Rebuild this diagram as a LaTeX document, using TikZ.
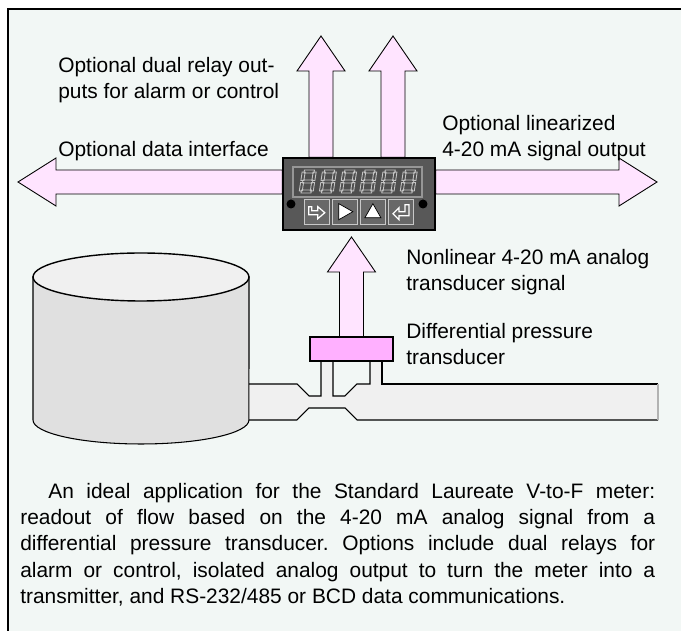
\documentclass[tikz,border=0pt]{standalone}
\usepackage{fontspec}
\setmainfont{Liberation Sans}
\frenchspacing
\usetikzlibrary{positioning,calc}
\definecolor{panelbg}{RGB}{242,247,245}
\definecolor{arrowpink}{RGB}{255,228,255}
\definecolor{xducerpink}{RGB}{255,176,255}
\definecolor{tankgray}{RGB}{224,224,224}
\definecolor{lidgray}{RGB}{240,240,240}
\definecolor{pipegray}{RGB}{240,240,240}
\definecolor{metergray}{RGB}{88,88,88}
\definecolor{displaygray}{RGB}{78,78,78}
\definecolor{rimgray}{RGB}{150,150,150}
\definecolor{keygray}{RGB}{104,104,104}
\definecolor{keyrim}{RGB}{200,200,200}
\definecolor{seggray}{RGB}{196,196,196}
\tikzset{
  panel/.style={draw=black,line width=1.6pt,fill=panelbg},
  fatarrow/.style={draw=black,line width=0.5pt,fill=arrowpink,line join=miter},
  meterbox/.style={rectangle,draw=black,line width=0.8pt,fill=metergray,minimum width=3.04cm,minimum height=1.44cm,inner sep=0pt},
  readout/.style={rectangle,draw=rimgray,line width=0.6pt,fill=displaygray,minimum width=2.58cm,minimum height=0.6cm,inner sep=0pt},
  keybox/.style={rectangle,draw=keyrim,line width=0.6pt,fill=keygray,minimum size=0.5cm,inner sep=0pt},
  seg/.style={draw=seggray,line width=0.5pt},
  keyicon/.style={draw=black,fill=white,line width=0.4pt,line join=miter},
  keyglyph/.style={draw=white,line width=0.7pt,line join=miter},
  ledhole/.style={circle,fill=black,minimum size=0.18cm,inner sep=0pt},
  xducer/.style={rectangle,draw=black,line width=0.6pt,fill=xducerpink,minimum width=1.66cm,minimum height=0.48cm,inner sep=0pt},
  note/.style={anchor=north west,inner sep=0pt,align=left,font=\fontsize{11.9}{14.74}\selectfont},
  caption/.style={anchor=north west,inner sep=0pt,text width=12.7cm,align=justify,font=\fontsize{11.9}{14.9}\selectfont},
  tankside/.style={draw=black,line width=0.6pt,fill=tankgray},
  tanklid/.style={draw=black,line width=0.8pt,fill=lidgray},
  pipe/.style={fill=pipegray},
  pipeline/.style={draw=black,line width=0.6pt}
}
% fat block arrows: #1 foot on a node border, #2 tip
\newcommand\fatvert[2]{%
  \filldraw[fatarrow] ($(#1)+(-12,0)$) -- ($(#2)+(-12,35)$) -- ($(#2)+(-24,35)$) -- (#2)
    -- ($(#2)+(24,35)$) -- ($(#2)+(12,35)$) -- ($(#1)+(12,0)$) -- cycle;}
% #3 = 1 points right, -1 points left
\newcommand\fathoriz[3]{%
  \filldraw[fatarrow] ($(#1)+(0,-12)$) -- ($(#2)+(#3*-38,-12)$) -- ($(#2)+(#3*-38,-24)$) -- (#2)
    -- ($(#2)+(#3*-38,24)$) -- ($(#2)+(#3*-38,12)$) -- ($(#1)+(0,12)$) -- cycle;}

\begin{document}
\begin{tikzpicture}[x=0.02cm,y=-0.02cm]
  \useasboundingbox (0,0) rectangle (681,631);
  \fill[white] (0,0) rectangle (681,631);
  \filldraw[panel] (8,9) rectangle (720,670);

  % tank and venturi pipe
  \fill[pipe] (249,384) -- (297,384) -- (309,396) -- (321,396) -- (321,361) -- (333,361) -- (333,396)
    -- (345,396) -- (357,384) -- (370,384) -- (370,361) -- (382,361) -- (382,384) -- (658,384)
    -- (658,420) -- (357,420) -- (345,408) -- (309,408) -- (297,420) -- (249,420) -- cycle;
  \draw[pipeline] (249,384) -- (297,384) -- (309,396) -- (321,396) -- (321,361);
  \draw[pipeline] (333,361) -- (333,396) -- (345,396) -- (357,384) -- (370,384) -- (370,361);
  \draw[pipeline] (382,361) -- (382,384) -- (658,384);
  \draw[pipeline] (249,420) -- (297,420) -- (309,408) -- (345,408) -- (357,420) -- (658,420);
  \draw[gray!60,line width=0.6pt] (658,384) -- (658,420);
  \filldraw[tankside] (33,277) -- (33,420) arc[start angle=180,end angle=360,x radius=2.16cm,y radius=0.48cm] -- (249,277) -- cycle;
  \filldraw[tanklid] (141,277) ellipse[x radius=2.16cm,y radius=0.48cm];

  \node[xducer] (xducer) at (351.5,349) {};

  \coordinate (relayA) at (321,36);
  \coordinate (relayB) at (393,36);
  \coordinate (datatip) at (18,182);
  \coordinate (lintip) at (657,182);
  \coordinate (sigtip) at (351.5,237);

  \node[meterbox] (meter) at (359,194) {};
  \coordinate (relayAfoot) at (relayA |- meter.north);
  \coordinate (relayBfoot) at (relayB |- meter.north);
  \coordinate (datafoot) at (datatip -| meter.west);
  \coordinate (linfoot) at (lintip -| meter.east);
  \coordinate (sigfoot) at (sigtip |- xducer.north);
  \fatvert{relayAfoot}{relayA}
  \fatvert{relayBfoot}{relayB}
  \fatvert{sigfoot}{sigtip}
  \fathoriz{datafoot}{datatip}{-1}
  \fathoriz{linfoot}{lintip}{1}

  \node[meterbox] at (meter) {};
  \node[readout] (display) at (357.5,182) {};
  \foreach \d in {0,...,5}{
    \begin{scope}[shift={(299+20.2*\d,193)},xslant=0.15]
      \draw[seg] (2,-23) rectangle (12,-20) (2,-13) rectangle (12,-10) (2,-3) rectangle (12,0)
        (0,-21) rectangle (3,-12.5) (11,-21) rectangle (14,-12.5)
        (0,-10.5) rectangle (3,-2) (11,-10.5) rectangle (14,-2);
    \end{scope}
  }
  \node[ledhole] (ledL) at (291,204) {};
  \node[ledhole] (ledR) at (423,204) {};
  \node[keybox] (k1) at (316.8,211.7) {};
  \node[keybox,right=0.04cm of k1] (k2) {};
  \node[keybox,right=0.04cm of k2] (k3) {};
  \node[keybox,right=0.04cm of k3] (k4) {};
  \begin{scope}[shift={(k1.center)}]
    \draw[keyglyph] (-8,-5) -- (-5,-5) -- (-5,-1) -- (1,-1) -- (1,-5) -- (8,1) -- (1,7) -- (1,3) -- (-8,3) -- cycle;
  \end{scope}
  \begin{scope}[shift={(k2.center)}]
    \filldraw[keyicon] (-6,-8) -- (8,0) -- (-6,8) -- cycle;
  \end{scope}
  \begin{scope}[shift={(k3.center)}]
    \filldraw[keyicon] (0,-8) -- (8,6) -- (-8,6) -- cycle;
  \end{scope}
  \begin{scope}[shift={(k4.center)}]
    \draw[keyglyph] (8,-7) -- (4,-7) -- (4,0) -- (-2,0) -- (-2,-4) -- (-8,2) -- (-2,8) -- (-2,4) -- (8,4) -- cycle;
  \end{scope}

  \node[note] (relaynote) at (58,57) {Optional dual relay out-\\puts for alarm or control};
  \node[note] (datanote) at (58,141) {Optional data interface};
  \node[note] (linnote) at (442,115) {Optional linearized\\4-20 mA signal output};
  \node[note] (signote) at (406,249) {Nonlinear 4-20 mA analog\\transducer signal};
  \node[note] (xdnote) at (406,323) {Differential pressure\\transducer};
  \node[caption] (blurb) at (20,483) {\hspace*{0.56cm}An ideal application for the Standard Laureate V-to-F meter:\linebreak
    readout of flow based on the 4-20 mA analog signal from a\linebreak
    differential pressure transducer. Options include dual relays for\linebreak
    alarm or control, isolated analog output to turn the meter into a\linebreak
    transmitter, and RS-232/485 or BCD data communications.};
\end{tikzpicture}
\end{document}
